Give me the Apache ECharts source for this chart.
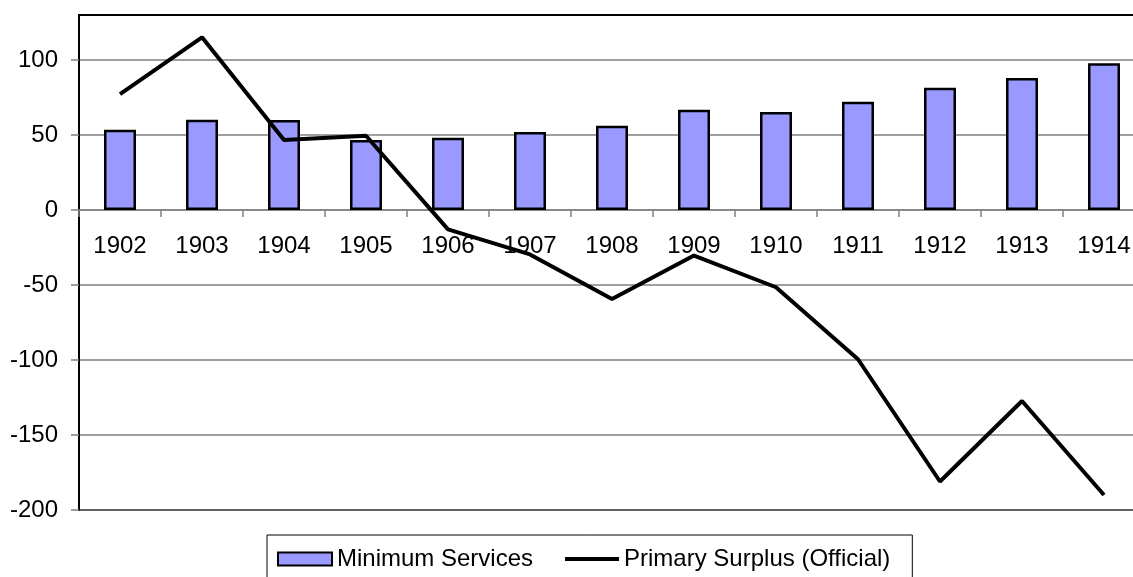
<!DOCTYPE html>
<html>
<head>
<meta charset="utf-8">
<script src="https://cdn.jsdelivr.net/npm/echarts@6/dist/echarts.min.js"></script>
<style>
  html, body { margin: 0; padding: 0; background: #fff; }
  #chart { width: 1133px; height: 577px; }
</style>
</head>
<body>
<div id="chart"></div>
<script>
// years on the x axis
const years = ['1902', '1903', '1904', '1905', '1906', '1907', '1908',
  '1909', '1910', '1911', '1912', '1913', '1914']
// bars
const minimumServices = [53.5, 60.2, 60, 46.7, 48.2, 52, 56.2, 66.9, 65.3, 72.2, 81.5, 88, 97.8]
// line
const primarySurplus = [77.3, 115.1, 46.7, 49.5, -12.9, -29.6, -59.3, -30.4, -51.5, -99.5, -181, -127.3, -190]
const yTicks = [-200, -150, -100, -50, 0, 50, 100]

const font = 'Liberation Sans, Arial, sans-serif'

const myChart = echarts.init(document.getElementById('chart'))

const option = {
  animation: false,
  grid: {
    left: 79,
    right: -12,   // plot area runs past the right edge of the picture
    top: 15,
    bottom: 67,
    outerBoundsMode: 'none',
    show: true,
    borderColor: '#000',
    borderWidth: 2
  },
  legend: {
    left: 267,
    top: 535,
    padding: [12, 22, 30, 10],
    borderColor: '#000',
    borderWidth: 1,
    itemWidth: 54,
    itemHeight: 13,
    itemGap: 30,
    textStyle: {
      color: '#000',
      fontSize: 24,
      fontFamily: font
    },
    data: [
      { name: 'Minimum Services', icon: 'rect', itemStyle: { borderWidth: 2 } },
      {
        name: 'Primary Surplus (Official)',
        itemStyle: { opacity: 0 },
        lineStyle: { width: 4, color: '#000' }
      }
    ]
  },
  xAxis: {
    type: 'category',
    data: years,
    position: 'bottom',
    // axis sits on the zero line: 200 units * 1.5px above the bottom
    offset: -300,
    axisLine: {
      onZero: false,
      lineStyle: { color: '#808080', width: 1.5 }
    },
    axisTick: {
      show: true,
      length: 7,
      lineStyle: { color: '#808080', width: 1.5 }
    },
    axisLabel: {
      color: '#000',
      fontSize: 24,
      fontFamily: font,
      margin: 24
    },
    splitLine: { show: false }
  },
  yAxis: {
    type: 'value',
    min: -200,
    max: 130,
    interval: 50,
    axisLine: {
      show: true,
      lineStyle: { color: '#000', width: 2 }
    },
    axisTick: {
      show: true,
      length: 8,
      customValues: yTicks,
      lineStyle: { color: '#808080', width: 1.5 }
    },
    axisLabel: {
      color: '#000',
      fontSize: 24,
      fontFamily: font,
      margin: 21,
      customValues: yTicks
    },
    splitLine: {
      lineStyle: { color: '#808080', width: 1.5 }
    }
  },
  series: [
    {
      name: 'Minimum Services',
      type: 'bar',
      data: minimumServices,
      barWidth: 32,
      itemStyle: {
        color: '#9999ff',
        borderColor: '#000',
        borderWidth: 2.5
      }
    },
    {
      name: 'Primary Surplus (Official)',
      type: 'line',
      data: primarySurplus,
      showSymbol: false,
      symbol: 'none',
      lineStyle: { color: '#000', width: 4 },
      itemStyle: { color: '#000' }
    }
  ]
}

myChart.setOption(option, true)
</script>
</body>
</html>
